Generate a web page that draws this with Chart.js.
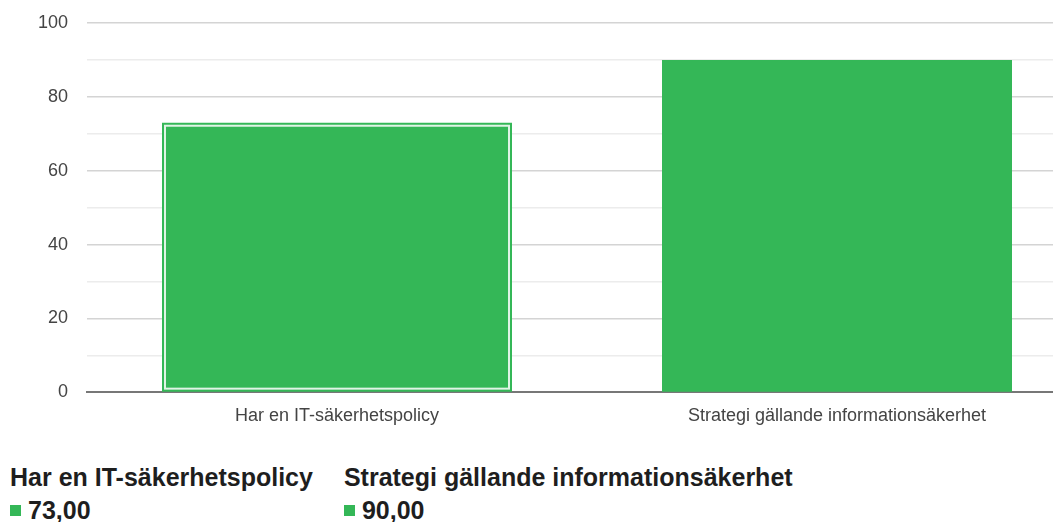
<!DOCTYPE html>
<html>
<head>
<meta charset="utf-8">
<script src="https://cdn.jsdelivr.net/npm/chart.js@4.4.1/dist/chart.umd.min.js"></script>
<style>
body{margin:0;overflow:hidden;background:#fff;font-family:"Liberation Sans",Arial,sans-serif;}
#wrap{position:absolute;left:0;top:0;width:1087px;height:440px;}
#legend{position:absolute;left:10px;top:461px;display:flex;}
.item{margin-right:31px;color:#1e1e1e;font-weight:bold;font-size:25px;line-height:33px;}
.val span{display:inline-block;width:11px;height:11px;background:#34b757;margin-right:7px;vertical-align:3px;}
</style>
</head>
<body>
<div id="wrap"><canvas id="chart"></canvas></div>
<div id="legend"></div>
<script>
//分类
var categories=["Har en IT-säkerhetspolicy","Strategi gällande informationsäkerhet"];
//数值
var values=[73,90];
//图例上的文字
var valueLabels=["73,00","90,00"];
var yTicks=[0,20,40,60,80,100];
var barColor="#34b757";

//第一根柱子里面的白框
var innerBorder={
	id:"innerBorder",
	afterDatasetsDraw:function(chart){
		var bar=chart.getDatasetMeta(0).data[0];
		var ctx=chart.ctx;
		var half=bar.width/2;
		ctx.save();
		ctx.strokeStyle="rgba(255,255,255,0.85)";
		ctx.lineWidth=2;
		ctx.strokeRect(bar.x-half+3,bar.y+3,bar.width-6,bar.base-bar.y-6);
		ctx.restore();
	}
};

var ctx=document.getElementById("chart").getContext("2d");
var myChart=new Chart(ctx,{
	type:"bar",
	data:{
		labels:categories,
		datasets:[{data:values,backgroundColor:barColor,borderWidth:0,categoryPercentage:1,barPercentage:0.7}]
	},
	options:{
		responsive:true,
		maintainAspectRatio:false,
		animation:false,
		layout:{padding:0},
		plugins:{legend:{display:false},tooltip:{enabled:false}},
		scales:{
			x:{
				grid:{display:false,drawTicks:false},
				border:{color:"#777",width:2},
				ticks:{color:"#444",font:{family:"Liberation Sans",size:18},padding:13}
			},
			y:{
				min:0,max:100,
				afterFit:function(scale){
					scale.width=87;
					//顶部留白
					scale.paddingTop=23;
				},
				border:{display:false},
				grid:{
					drawTicks:false,
					color:function(c){
						if(c.tick.value===0) return "rgba(0,0,0,0)";
						return c.tick.value%20===0?"#d4d4d4":"#ececec";
					},
					lineWidth:1.5
				},
				ticks:{
					stepSize:10,
					color:"#444",
					font:{family:"Liberation Sans",size:18},
					padding:19,
					callback:function(v){return yTicks.indexOf(v)>=0?v:"";}
				}
			}
		}
	},
	plugins:[innerBorder]
});

//自定义图例
var html="";
for(var i=0;i<categories.length;i++){
	html+='<div class="item"><div>'+categories[i]+'</div><div class="val"><span></span>'+valueLabels[i]+'</div></div>';
}
document.getElementById("legend").innerHTML=html;
</script>
</body>
</html>
